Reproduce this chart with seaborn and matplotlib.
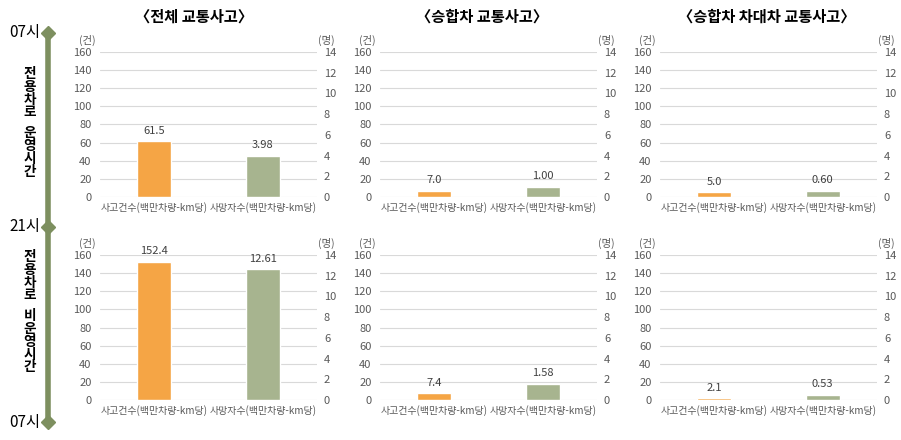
import matplotlib
matplotlib.use("Agg")
import matplotlib.pyplot as plt
import seaborn as sns

# --- data ---
categories = ["사고건수(백만차량-km당)", "사망자수(백만차량-km당)"]
panel_titles = ["〈전체 교통사고〉", "〈승합차 교통사고〉", "〈승합차 차대차 교통사고〉"]
row_labels = ["전용차로 운영시간", "전용차로 비운영시간"]
time_labels = ["07시", "21시", "07시"]

acc_oper = [61.5, 7.0, 5.0]
death_oper = [3.98, 1.00, 0.60]
acc_nonoper = [152.4, 7.4, 2.1]
death_nonoper = [12.61, 1.58, 0.53]

left_ticks = [0, 20, 40, 60, 80, 100, 120, 140, 160]
right_ticks = [0, 2, 4, 6, 8, 10, 12, 14]

ORANGE = "#F5A545"
GREEN = "#A7B48F"
LINE_GREEN = "#7D8F5F"
GRAY = "#595959"
GRID = "#D9D9D9"

sns.set_theme(style="white")
plt.rcParams['font.family'] = ['Noto Sans CJK KR', 'DejaVu Sans']

W, H = 901, 440
fig = plt.figure(figsize=(W / 100, H / 100), dpi=100)

col_left = [100, 380, 660]
row_top = [52, 255]
ax_w, ax_h = 217, 145
title_x = [0.433, 0.47, 0.49]

rows = [(acc_oper, death_oper), (acc_nonoper, death_nonoper)]

for r, (accs, deaths) in enumerate(rows):
    for c in range(3):
        rect = [col_left[c] / W, 1 - (row_top[r] + ax_h) / H, ax_w / W, ax_h / H]
        ax = fig.add_axes(rect)
        sns.barplot(x=[categories[0]], y=[accs[c]], order=categories, color=ORANGE,
                    width=0.31, saturation=1, ax=ax)
        ax2 = ax.twinx()
        sns.barplot(x=[categories[1]], y=[deaths[c]], order=categories, color=GREEN,
                    width=0.31, saturation=1, ax=ax2)
        ax.set_xlim(-0.5, 1.5)
        ax.set_ylim(0, 160)
        ax2.set_ylim(0, 14)
        ax.set_yticks(left_ticks)
        ax2.set_yticks(right_ticks)
        ax.set_xlabel("")
        ax.set_ylabel("")
        ax2.set_ylabel("")
        ax.grid(axis='y', color=GRID, linewidth=0.8)
        ax.set_axisbelow(True)
        for a in (ax, ax2):
            for s in a.spines.values():
                s.set_visible(False)
        ax.tick_params(axis='y', length=0, pad=6, labelsize=8, labelcolor=GRAY)
        ax2.tick_params(axis='y', length=0, pad=5, labelsize=8, labelcolor=GRAY)
        ax.tick_params(axis='x', length=0, pad=4, labelsize=7.2, labelcolor=GRAY)
        ax2.tick_params(axis='x', length=0)

        # value labels
        ax.annotate(f"{accs[c]:.1f}", xy=(0, accs[c]), xytext=(0, 4), textcoords='offset points',
                    ha='center', va='bottom', fontsize=8, color="#404040")
        ax2.annotate(f"{deaths[c]:.2f}", xy=(1, deaths[c]), xytext=(0, 4), textcoords='offset points',
                     ha='center', va='bottom', fontsize=8, color="#404040")

        # unit labels
        ax.annotate("(건)", xy=(0, 1), xycoords='axes fraction', xytext=(-3, 4),
                    textcoords='offset points', ha='right', va='bottom', fontsize=7.5, color=GRAY)
        ax.annotate("(명)", xy=(1, 1), xycoords='axes fraction', xytext=(1, 4),
                    textcoords='offset points', ha='left', va='bottom', fontsize=7.5, color=GRAY)

        if r == 0:
            ax.set_title(panel_titles[c], x=title_x[c], fontsize=11, fontweight='bold',
                         color='black', pad=22)

# --- timeline on the left ---
tl = fig.add_axes([0, 0, 1, 1])
tl.set_xlim(0, W)
tl.set_ylim(H, 0)
tl.axis('off')
tl.patch.set_visible(False)
marks_y = [33, 227, 422]
tl.plot([48, 48], [marks_y[0], marks_y[-1]], color=LINE_GREEN, linewidth=4, solid_capstyle='butt')
tl.plot([48] * 3, marks_y, linestyle='none', marker='D', markersize=7.5, color=LINE_GREEN)
for y, lab in zip(marks_y, time_labels):
    tl.text(40, y, lab, ha='right', va='center', fontsize=11, color='black')

# stacked vertical row labels
for lab, y0 in zip(row_labels, [74, 257]):
    y = y0
    for ch in lab:
        if ch == " ":
            y += 8
            continue
        tl.text(30, y, ch, ha='center', va='center', fontsize=9.8, fontweight='bold', color='black')
        y += 12.8

fig.savefig("out.png", dpi=100)
